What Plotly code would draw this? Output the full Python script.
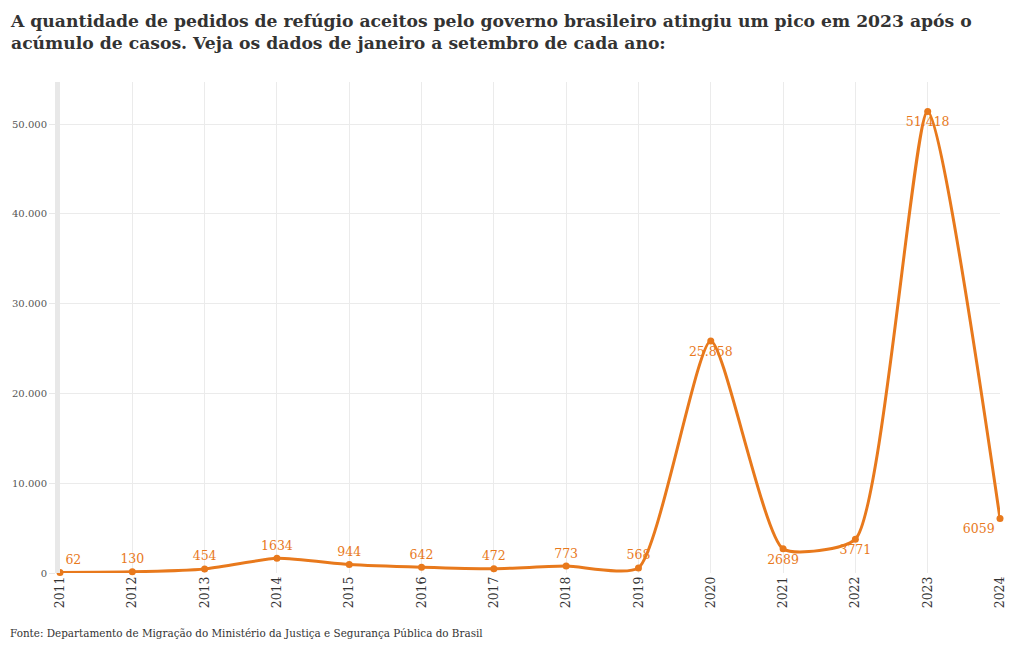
import plotly.graph_objects as go

years = [2011, 2012, 2013, 2014, 2015, 2016, 2017, 2018, 2019, 2020, 2021, 2022, 2023, 2024]
values = [62, 130, 454, 1634, 944, 642, 472, 773, 568, 25858, 2689, 3771, 51418, 6059]
labels = ["62", "130", "454", "1634", "944", "642", "472", "773", "568",
          "25.858", "2689", "3771", "51.418", "6059"]
positions = ["top right", "top center", "top center", "top center", "top center", "top center",
             "top center", "top center", "top center", "bottom center", "bottom center",
             "bottom center", "bottom center", "bottom left"]

ORANGE = "#e8791c"
FONT = "DejaVu Serif"

W, H = 1020, 650
ML, MR, MT, MB = 55, 20, 82, 77
PW, PH = W - ML - MR, H - MT - MB


def px_x(x):
    return (x - ML) / PW


def px_y(y):
    return (H - MB - y) / PH


fig = go.Figure()
fig.add_trace(go.Scatter(
    x=years, y=values, mode="lines+markers+text",
    line=dict(color=ORANGE, width=3, shape="spline", smoothing=0.55),
    marker=dict(color=ORANGE, size=7),
    text=labels, textposition=positions,
    textfont=dict(color=ORANGE, size=12.5, family=FONT),
    cliponaxis=False, hoverinfo="x+y", showlegend=False,
))

fig.update_layout(
    width=W, height=H,
    margin=dict(l=ML, r=MR, t=MT, b=MB),
    paper_bgcolor="white", plot_bgcolor="white",
    separators=",.",
    font=dict(family=FONT, color="#333"),
    xaxis=dict(
        range=[2011, 2024], tickmode="array", tickvals=years,
        ticktext=[str(y) for y in years], tickangle=-90,
        showgrid=True, gridcolor="#ebebeb", gridwidth=1,
        zeroline=False, showline=False, ticks="",
        tickfont=dict(size=12.5, family=FONT, color="#333"),
    ),
    yaxis=dict(
        range=[0, 54700], tickvals=[0, 10000, 20000, 30000, 40000, 50000],
        tickformat=",d", showgrid=True, gridcolor="#ebebeb", gridwidth=1,
        zeroline=False, showline=True, linecolor="#e8e8e8", linewidth=5,
        ticks="outside", ticklen=6, tickcolor="#e8e8e8", tickwidth=1,
        tickfont=dict(size=10, family=FONT, color="#555"),
    ),
    annotations=[
        dict(
            text="<b>A quantidade de pedidos de refúgio aceitos pelo governo brasileiro atingiu um pico em 2023 após o<br>acúmulo de casos. Veja os dados de janeiro a setembro de cada ano:</b>",
            x=px_x(3), xref="paper", xanchor="left", align="left",
            y=px_y(9), yref="paper", yanchor="top", showarrow=False,
            font=dict(size=17.2, family=FONT, color="#333"),
        ),
        dict(
            text="Fonte: Departamento de Migração do Ministério da Justiça e Segurança Pública do Brasil",
            x=px_x(3), xref="paper", xanchor="left",
            y=px_y(633), yref="paper", yanchor="middle", showarrow=False,
            font=dict(size=10.4, family=FONT, color="#333"),
        ),
    ],
)

fig.write_html("out.html")
